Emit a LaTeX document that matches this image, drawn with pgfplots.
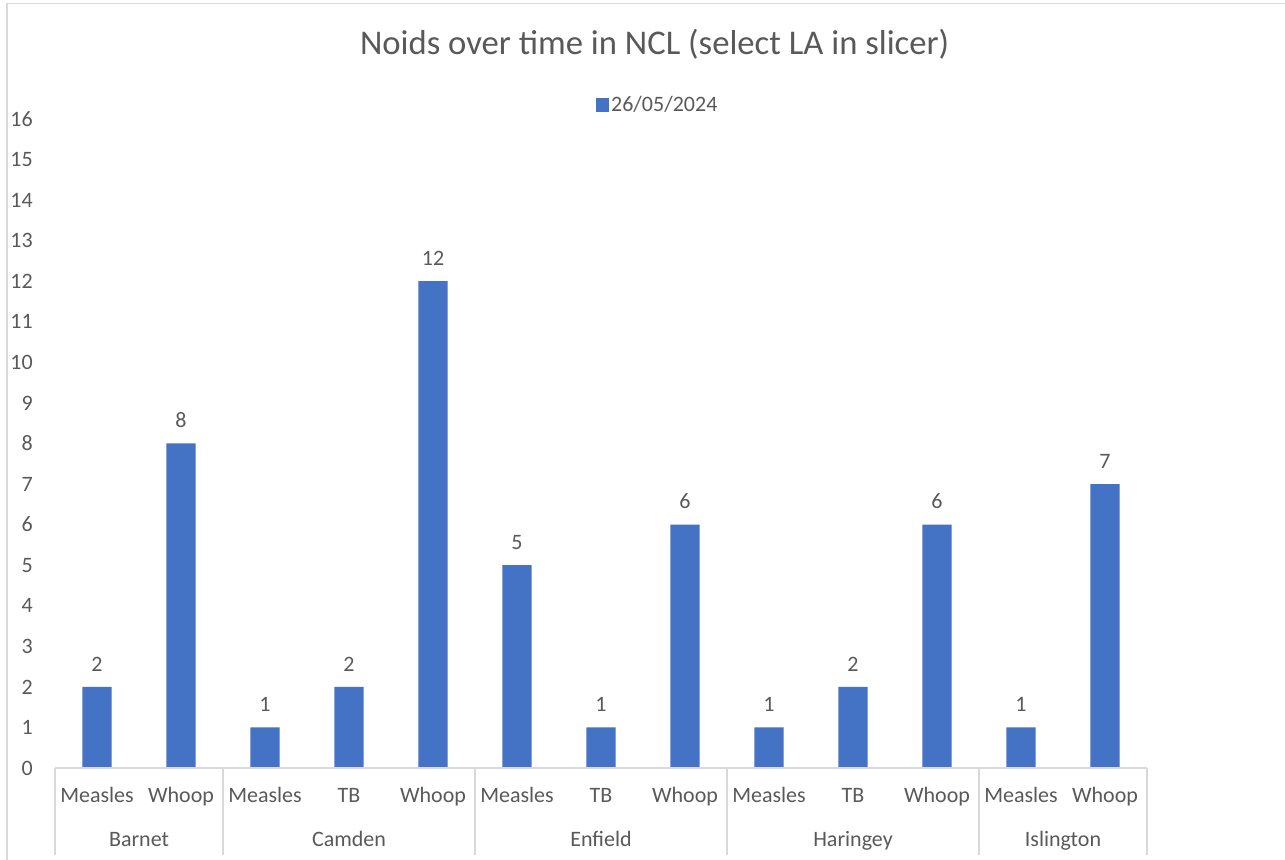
\documentclass[border=0pt]{standalone}
\usepackage{fontspec}
\setmainfont{Carlito}
\usepackage{pgfplots}
\pgfplotsset{compat=1.18}
\definecolor{barblue}{HTML}{4472C4}
\definecolor{txt}{HTML}{595959}
\definecolor{axisgray}{HTML}{D9D9D9}
\newcommand{\tfont}{\fontsize{16.5}{19}\selectfont}
\begin{document}
\begin{tikzpicture}
\useasboundingbox (0,0) rectangle (963.75pt,645pt);
\draw[axisgray, line width=1.2pt] (5.25pt,0) -- (5.25pt,642.4pt) -- (963.75pt,642.4pt);
\node[text=txt, font=\fontsize{26}{30}\selectfont, anchor=base] at (491pt,603.75pt) {Noids over time in NCL (select LA in slicer)};
\begin{axis}[
 at={(41.25pt,69pt)}, anchor=south west,
 scale only axis, width=819pt, height=486.75pt,
 xmin=-0.5, xmax=12.5, ymin=0, ymax=16,
 axis line style={draw=none},
 ytick={0,...,16},
 xtick={0,...,12},
 xticklabels={Measles,Whoop,Measles,TB,Whoop,Measles,TB,Whoop,Measles,TB,Whoop,Measles,Whoop},
 major tick length=0pt,
 tick style={draw=none},
 /pgf/number format/assume math mode=true,
 ticklabel style={font=\tfont, text=txt},
 yticklabel style={anchor=east, inner sep=0pt, xshift=-16.5pt},
 xticklabel style={anchor=base, inner sep=0pt, yshift=-26.25pt},
 ybar, bar width=22pt,
 nodes near coords,
 nodes near coords style={font=\tfont, text=txt, anchor=center, yshift=17.25pt},
 legend style={at={(0.552,1.0216)}, anchor=center, draw=none, fill=none, font=\tfont, text=txt},
 legend image code/.code={\fill[barblue] (0pt,-4.9pt) rectangle (9.75pt,4.9pt);},
 clip=false,
]
\addplot[fill=barblue, draw=none] coordinates {(0,2) (1,8) (2,1) (3,2) (4,12) (5,5) (6,1) (7,6) (8,1) (9,2) (10,6) (11,1) (12,7)};
\addlegendentry{26/05/2024}
\draw[axisgray, line width=1pt] (axis cs:-0.5,0) -- (axis cs:12.5,0);
\pgfplotsinvokeforeach{-0.5,1.5,4.5,7.5,10.5,12.5}{\draw[axisgray, line width=1pt] (axis cs:#1,0) -- ++(0pt,-65.25pt);}
\node[text=txt, font=\tfont, anchor=base] at ([yshift=-59.25pt]axis cs:0.5,0) {Barnet};
\node[text=txt, font=\tfont, anchor=base] at ([yshift=-59.25pt]axis cs:3,0) {Camden};
\node[text=txt, font=\tfont, anchor=base] at ([yshift=-59.25pt]axis cs:6,0) {Enfield};
\node[text=txt, font=\tfont, anchor=base] at ([yshift=-59.25pt]axis cs:9,0) {Haringey};
\node[text=txt, font=\tfont, anchor=base] at ([yshift=-59.25pt]axis cs:11.5,0) {Islington};
\end{axis}
\end{tikzpicture}
\end{document}
